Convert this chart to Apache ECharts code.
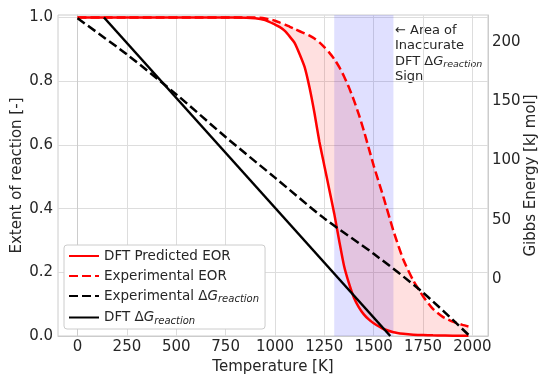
<!DOCTYPE html>
<html>
<head>
<meta charset="utf-8">
<script src="https://cdn.jsdelivr.net/npm/echarts@6/dist/echarts.min.js"></script>
<style>
html,body{margin:0;padding:0;background:#fff;}
#chart{width:550px;height:383px;}
</style>
</head>
<body>
<div id="chart"></div>
<script>
// ---- data ----
var eorTemps = [0, 200, 400, 600, 800, 900, 950, 1000, 1025, 1050, 1075, 1100, 1125, 1150, 1175, 1200, 1225, 1250, 1275, 1300, 1325, 1350, 1375, 1400, 1425, 1450, 1475, 1500, 1550, 1600, 1650, 1700, 1750, 1800, 1850, 1900, 1950, 1980];
var dftEOR = [1.0, 1.0, 1.0, 1.0, 1.0, 0.998, 0.992, 0.978, 0.97, 0.958, 0.94, 0.92, 0.885, 0.845, 0.78, 0.70, 0.61, 0.535, 0.46, 0.385, 0.30, 0.22, 0.165, 0.12, 0.09, 0.068, 0.052, 0.04, 0.022, 0.012, 0.007, 0.004, 0.003, 0.002, 0.0015, 0.001, 0.001, 0.001];
var expEOR = [1.0, 1.0, 1.0, 1.0, 1.0, 1.0, 0.997, 0.99, 0.984, 0.978, 0.971, 0.964, 0.957, 0.95, 0.943, 0.934, 0.922, 0.907, 0.89, 0.87, 0.845, 0.815, 0.78, 0.74, 0.695, 0.645, 0.59, 0.535, 0.435, 0.33, 0.24, 0.175, 0.125, 0.085, 0.06, 0.045, 0.035, 0.03];

var expGTemps = [0, 250, 500, 750, 1000, 1250, 1500, 1750, 1980];
var expG = [219.7, 189.3, 155.7, 119.8, 85.6, 51.3, 21.5, -11.2, -46.7];

var dftGTemps = [134, 1584];
var dftG = [220.4, -47.7];

var spanRange = [1300, 1600];

var xTicks = [0, 250, 500, 750, 1000, 1250, 1500, 1750, 2000];
var yTicks = [0.0, 0.2, 0.4, 0.6, 0.8, 1.0];
var gibbsTicks = [0, 50, 100, 150, 200];

// ---- build ----
function pairs(xs, ys) { return xs.map(function (x, i) { return [x, ys[i]]; }); }

var FONT = 'DejaVu Sans';
var TXT = '#262626';
var GRID = '#dddddd';
var AX = 15;
var LG = 13.5;
var AN = 13;

var chart = echarts.init(document.getElementById('chart'), null, { renderer: 'canvas' });

var legendRich = {
  n: { fontFamily: FONT, fontSize: LG, color: TXT },
  i: { fontFamily: FONT, fontSize: LG, fontStyle: 'italic', color: TXT },
  s: { fontFamily: FONT, fontSize: 10, fontStyle: 'italic', color: TXT, padding: [7, 0, 0, 0] }
};

var option = {
  animation: false,
  backgroundColor: '#ffffff',
  grid: { left: 58, right: 62, top: 15, bottom: 47, show: true, borderColor: '#cccccc', borderWidth: 1,
    containLabel: false, outerBoundsMode: 'none' },
  xAxis: {
    type: 'value', min: -99, max: 2079,
    name: 'Temperature [K]', nameLocation: 'middle', nameGap: 24, nameMoveOverlap: false,
    nameTextStyle: { fontFamily: FONT, fontSize: AX, color: TXT },
    axisLine: { show: true, lineStyle: { color: '#cccccc' } },
    axisTick: { show: false, customValues: xTicks },
    axisLabel: { customValues: xTicks, margin: 4, fontFamily: FONT, fontSize: AX, color: TXT,
      formatter: function (v) { return String(v); } },
    splitLine: { show: true, lineStyle: { color: GRID, width: 1 } }
  },
  yAxis: [{
    type: 'value', min: 0, max: 1.008,
    name: 'Extent of reaction [-]', nameLocation: 'middle', nameGap: 33, nameMoveOverlap: false,
    nameTextStyle: { fontFamily: FONT, fontSize: AX, color: TXT },
    axisLine: { show: true, lineStyle: { color: '#cccccc' } },
    axisTick: { show: false, customValues: yTicks },
    axisLabel: { customValues: yTicks, margin: 5, fontFamily: FONT, fontSize: AX, color: TXT,
      formatter: function (v) { return v.toFixed(1); } },
    splitLine: { show: true, lineStyle: { color: GRID, width: 1 } }
  }, {
    type: 'value', min: -47.7, max: 222.5, position: 'right',
    name: 'Gibbs Energy [kJ mol]', nameLocation: 'middle', nameGap: 36, nameMoveOverlap: false,
    nameTextStyle: { fontFamily: FONT, fontSize: AX, color: TXT },
    axisLine: { show: true, lineStyle: { color: '#cccccc' } },
    axisTick: { show: false, customValues: gibbsTicks },
    axisLabel: { customValues: gibbsTicks, margin: 4, fontFamily: FONT, fontSize: AX, color: TXT },
    splitLine: { show: false }
  }],
  legend: {
    orient: 'vertical', left: 64, top: 245,
    data: ['DFT Predicted EOR', 'Experimental EOR', 'Experimental ΔG', 'DFT ΔG'],
    backgroundColor: '#ffffff', borderColor: '#cccccc', borderWidth: 1, borderRadius: 3,
    padding: [4, 6, 3, 4], itemWidth: 30, itemHeight: 14, itemGap: 6,
    itemStyle: { opacity: 0 },
    textStyle: { fontFamily: FONT, fontSize: LG, color: TXT, rich: legendRich },
    formatter: function (name) {
      if (name === 'Experimental ΔG') return '{n|Experimental Δ}{i|G}{s|reaction}';
      if (name === 'DFT ΔG') return '{n|DFT Δ}{i|G}{s|reaction}';
      return '{n|' + name + '}';
    }
  },
  graphic: [{
    type: 'text', left: 395, top: 24, silent: true,
    style: {
      text: '{n|← Area of}\n{n|Inaccurate}\n{n|DFT Δ}{i|G}{s|reaction}\n{n|Sign}',
      rich: {
        n: { fontFamily: FONT, fontSize: AN, fill: TXT, lineHeight: 15.5 },
        i: { fontFamily: FONT, fontSize: AN, fontStyle: 'italic', fill: TXT, lineHeight: 15.5 },
        s: { fontFamily: FONT, fontSize: 9.5, fontStyle: 'italic', fill: TXT, lineHeight: 15.5, padding: [7, 0, 0, 0] }
      }
    }
  }],
  series: [{
    name: 'fill', type: 'custom', z: 1, silent: true,
    data: [[eorTemps[0], dftEOR[0]]],
    renderItem: function (params, api) {
      var pts = [], i;
      for (i = 0; i < eorTemps.length; i++) pts.push(api.coord([eorTemps[i], dftEOR[i]]));
      for (i = eorTemps.length - 1; i >= 0; i--) pts.push(api.coord([eorTemps[i], expEOR[i]]));
      return { type: 'polygon', shape: { points: pts }, style: { fill: 'rgba(255,0,0,0.12)' } };
    },
    markArea: {
      silent: true,
      itemStyle: { color: 'rgba(0,0,255,0.12)' },
      data: [[{ xAxis: spanRange[0] }, { xAxis: spanRange[1] }]]
    }
  }, {
    name: 'DFT Predicted EOR', type: 'line', z: 3,
    data: pairs(eorTemps, dftEOR), symbol: 'none', smooth: 0.2,
    lineStyle: { color: '#ff0000', width: 2.5 }, itemStyle: { color: '#ff0000' }
  }, {
    name: 'Experimental EOR', type: 'line', z: 3,
    data: pairs(eorTemps, expEOR), symbol: 'none', smooth: 0.2,
    lineStyle: { color: '#ff0000', width: 2.5, type: [9, 4] }, itemStyle: { color: '#ff0000' }
  }, {
    name: 'Experimental ΔG', type: 'line', yAxisIndex: 1, z: 4,
    data: pairs(expGTemps, expG), symbol: 'none', smooth: 0.3,
    lineStyle: { color: '#000000', width: 2.5, type: [9, 4] }, itemStyle: { color: '#000000' }
  }, {
    name: 'DFT ΔG', type: 'line', yAxisIndex: 1, z: 4,
    data: pairs(dftGTemps, dftG), symbol: 'none',
    lineStyle: { color: '#000000', width: 2.5 }, itemStyle: { color: '#000000' }
  }]
};
chart.setOption(option);
</script>
</body>
</html>
